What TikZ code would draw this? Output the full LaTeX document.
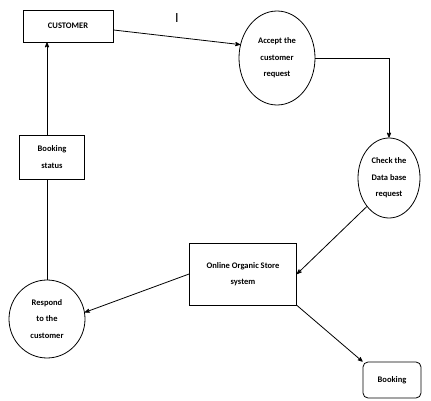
\documentclass[tikz,border=0pt]{standalone}
\usepackage{fontspec}
\setmainfont{Carlito}
\usepackage{tikz}
\usetikzlibrary{arrows,%
                shapes.geometric}

\begin{document}
\begin{tikzpicture}[x=1pt, y=-1pt, >=stealth', thick, auto,
    font=\fontsize{8.5}{16.5}\selectfont\bfseries]
    \tikzstyle{entity}=[rectangle, draw, align=center, inner sep=2pt]
    \tikzstyle{proc}=[ellipse, draw, align=center, inner sep=1pt]
    \tikzstyle{store}=[rectangle, draw, rounded corners=5pt, align=center]

    \useasboundingbox (0,0) rectangle (431,401);

    \node[entity, minimum width=90, minimum height=32] (cust) at (68,26) {CUSTOMER};
    \node[proc, minimum width=76, minimum height=94] (accept) at (277,58) {Accept the\\customer\\request};
    \node[proc, minimum width=62, minimum height=80] (check) at (389,178) {Check the\\Data base\\request};
    \node[entity, minimum width=107, minimum height=62] (online) at (243,274) {Online Organic Store\\system};
    \node[proc, minimum width=76, minimum height=78] (respond) at (47,319) {Respond\\to the\\customer};
    \node[entity, minimum width=65, minimum height=44] (status) at (52,157) {Booking\\status};
    \node[store, minimum width=58, minimum height=36] (booking) at (392,380) {Booking};
    \node[font=\fontsize{14}{14}\selectfont] (lbl) at (177,18) {I};

    \draw[->] (cust.-5) -- (accept.160);
    \draw[->] (accept.east) -| (check.north);
    \draw[->] (check.south west) -- (online.east);
    \draw[->] (online.west) -- (respond.10);
    \draw[->] (online.south east) -- (booking.north west);
    \draw (respond.north) -- (respond.north |- status.south);
    \draw[->] (respond.north |- status.north) -- (respond.north |- cust.south);

\end{tikzpicture}
\end{document}
